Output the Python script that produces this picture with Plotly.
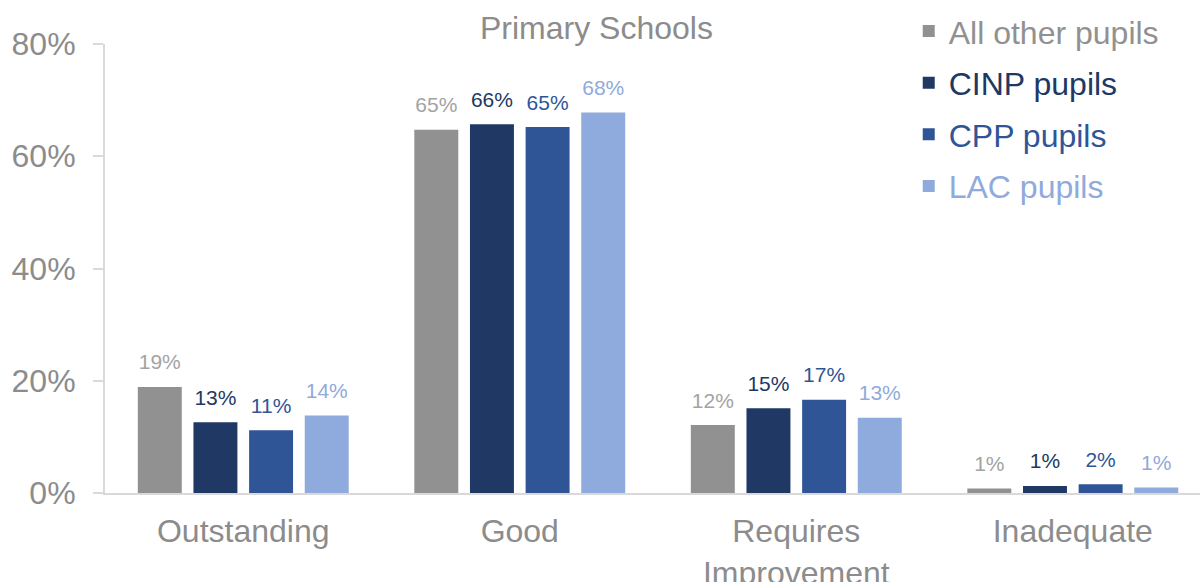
import plotly.graph_objects as go

# Ofsted rating of the school attended - primary schools
categories = ['Outstanding', 'Good', 'Requires<br>Improvement', 'Inadequate']
series_names = ['All other pupils', 'CINP pupils', 'CPP pupils', 'LAC pupils']
all_other = [18.9, 64.7, 12.1, 0.8]
cinp = [12.6, 65.7, 15.1, 1.25]
cpp = [11.2, 65.2, 16.6, 1.55]
lac = [13.8, 67.8, 13.4, 1.0]
y_ticks = [0, 20, 40, 60, 80]

bar_colors = ['#919191', '#203864', '#2f5597', '#8faadc']
label_colors = ['#a3a3a3', '#203864', '#2f5597', '#8faadc']
font = 'Arial, Liberation Sans, sans-serif'

fig = go.Figure()
for i, (name, vals) in enumerate(zip(series_names, [all_other, cinp, cpp, lac])):
    fig.add_trace(go.Bar(
        x=categories, y=vals,
        name=f"<span style='color:{bar_colors[i]}'>{name}</span>",
        marker=dict(color=bar_colors[i], line=dict(width=0)),
        legendgroup=name, offsetgroup=str(i),
        hoverinfo='skip',
    ))

# data labels (transparent markers push the text up a little)
for i, vals in enumerate([all_other, cinp, cpp, lac]):
    fig.add_trace(go.Scatter(
        x=categories, y=vals, mode='markers+text',
        marker=dict(size=18, color='rgba(0,0,0,0)'),
        text=[f'{v:.0f}%' for v in vals], textposition='top center',
        textfont=dict(size=21, color=label_colors[i], family=font),
        showlegend=False, offsetgroup=str(i), hoverinfo='skip', cliponaxis=False,
    ))

fig.update_layout(
    width=1200, height=582,
    margin=dict(l=105, r=0, t=44, b=89, autoexpand=False),
    paper_bgcolor='white', plot_bgcolor='white',
    font=dict(family=font, color='#8c8c8c'),
    barmode='group', bargap=0.195, bargroupgap=0.21,
    scattermode='group', scattergap=0.195,
    title=dict(text='Primary Schools', x=0.497, xref='container', xanchor='center',
               y=1 - 28 / 582, yref='container', yanchor='middle',
               font=dict(size=32, color='#8c8c8c', family=font)),
    legend=dict(x=0.734, y=1.0895, xanchor='left', yanchor='top',
                font=dict(size=32, family=font), tracegroupgap=7,
                bgcolor='rgba(0,0,0,0)'),
    showlegend=True,
)
fig.update_xaxes(
    categoryorder='array', categoryarray=categories, range=[-0.5, 3.46],
    showline=True, linecolor='#d9d9d9', linewidth=2, showgrid=False,
    tickfont=dict(size=32, color='#8c8c8c', family=font), ticklabelstandoff=9,
)
fig.update_yaxes(
    range=[0, 80], tickmode='array', tickvals=y_ticks,
    ticktext=[f'{t}%' for t in y_ticks],
    showline=True, linecolor='#d9d9d9', linewidth=2, showgrid=False, zeroline=False,
    ticks='outside', ticklen=10, tickcolor='#d9d9d9', tickwidth=2,
    tickfont=dict(size=32, color='#8c8c8c', family=font), ticklabelstandoff=11,
)

fig.write_html('out.html', config={'displayModeBar': False},
               post_script="document.body.style.margin='0';")
